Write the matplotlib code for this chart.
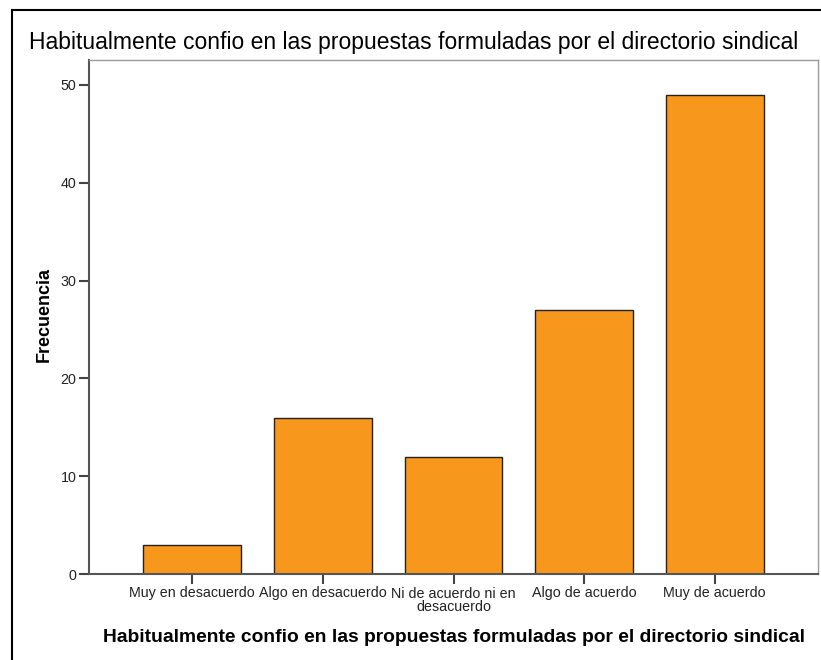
import matplotlib
matplotlib.use("Agg")
import matplotlib.pyplot as plt
from matplotlib.lines import Line2D

plt.rcParams['font.family'] = ['Liberation Sans', 'DejaVu Sans']

categories = ["Muy en desacuerdo", "Algo en desacuerdo", "Ni de acuerdo ni en\ndesacuerdo",
              "Algo de acuerdo", "Muy de acuerdo"]
counts = [3, 16, 12, 27, 49]
title = "Habitualmente confio en las propuestas formuladas por el directorio sindical"

fig = plt.figure(figsize=(8.21, 6.6), dpi=100)
ax = fig.add_axes([89 / 821, 1 - 574 / 660, (818 - 89) / 821, (574 - 60) / 660])

x = range(len(categories))
ax.bar(x, counts, width=0.75, color="#F7981D", edgecolor="#222222", linewidth=1.0, zorder=2)

ax.set_xlim(-0.79, 4.79)
ax.set_ylim(0, 52.55)
ax.set_xticks(list(x))
ax.set_xticklabels(categories, fontsize=10.3, color="#222222", linespacing=0.95)
ax.set_yticks([0, 10, 20, 30, 40, 50])
ax.tick_params(axis="both", direction="out", length=7, width=1.5, color="#444444",
               labelsize=10.3, labelcolor="#222222", pad=2)

for side in ["top", "right"]:
    ax.spines[side].set_color("#999999")
    ax.spines[side].set_linewidth(1.0)
for side in ["left", "bottom"]:
    ax.spines[side].set_color("#555555")
    ax.spines[side].set_linewidth(1.5)

fig.text(0.5 * (30 + 797) / 821, 1 - 42 / 660, title, ha="center", va="center", fontsize=16.5)
ax.set_xlabel(title, fontsize=13.9, fontweight="bold", labelpad=11)
ax.set_ylabel("Frecuencia", fontsize=13, fontweight="bold")
ax.yaxis.set_label_coords((53 - 89) / 729, 0.505)

# outer frame (left and top edges visible)
fig.add_artist(Line2D([12 / 821, 12 / 821], [0, 1 - 10 / 660], color="black", lw=1.5,
                      transform=fig.transFigure))
fig.add_artist(Line2D([12 / 821, 1], [1 - 10 / 660, 1 - 10 / 660], color="black", lw=1.5,
                      transform=fig.transFigure))

fig.savefig("out.png", dpi=100)
